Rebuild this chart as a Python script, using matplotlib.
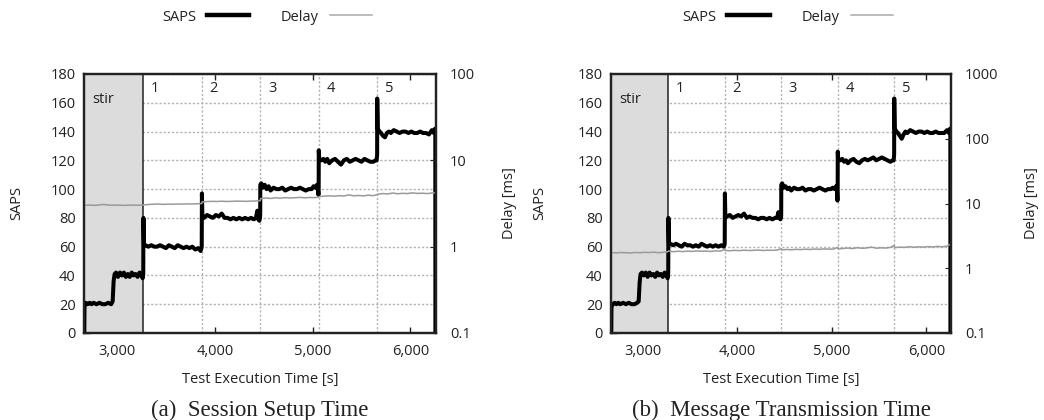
import matplotlib
matplotlib.use("Agg")
import matplotlib.pyplot as plt
from matplotlib.lines import Line2D
from matplotlib.ticker import FixedLocator, NullLocator

plt.rcParams['font.family'] = ['Open Sans', 'DejaVu Sans']

# ---------------- data ----------------
phase_edges = [3268, 3866, 4464, 5062, 5660, 6258]
phase_labels = ['1', '2', '3', '4', '5']
x_ticks = [3000, 4000, 5000, 6000]
x_ticklabels = ['3,000', '4,000', '5,000', '6,000']
saps_ticks = [0, 20, 40, 60, 80, 100, 120, 140, 160, 180]

saps_time = (
    [2665, 2667, 2680, 2700, 2720, 2740, 2760, 2790, 2820, 2850, 2880, 2910, 2940, 2955, 2965, 2975,
     2990, 3010, 3030, 3050, 3070, 3090, 3110, 3130, 3150, 3170, 3190, 3210, 3230, 3250, 3262, 3268]
    + [3270, 3275, 3290, 3320, 3350, 3380, 3410, 3440, 3470, 3500, 3530, 3560, 3590, 3620, 3650, 3680,
       3710, 3740, 3770, 3800, 3830, 3855, 3862, 3866]
    + [3868, 3873, 3890, 3920, 3950, 3980, 4010, 4040, 4070, 4100, 4130, 4160, 4190, 4220, 4250, 4280,
       4310, 4340, 4370, 4400, 4420, 4435, 4445, 4455, 4462, 4464]
    + [4465, 4475, 4490, 4510, 4530, 4550, 4570, 4600, 4630, 4660, 4690, 4720, 4750, 4780, 4810, 4840,
       4870, 4900, 4930, 4960, 4990, 5010, 5030, 5045, 5055, 5060, 5062]
    + [5063, 5068, 5090, 5110, 5130, 5150, 5170, 5200, 5230, 5260, 5290, 5320, 5350, 5380, 5410, 5440,
       5470, 5500, 5530, 5560, 5590, 5620, 5645, 5655, 5660]
    + [5661, 5666, 5685, 5700, 5720, 5740, 5760, 5780, 5800, 5830, 5860, 5890, 5920, 5950, 5980, 6010,
       6040, 6070, 6100, 6130, 6160, 6190, 6220, 6240, 6252, 6255, 6256]
)

saps_a = (
    [0, 18, 21, 20, 21, 20, 21, 20, 21, 20, 20, 21, 20, 22, 36, 41,
     42, 39, 42, 40, 42, 39, 41, 39, 42, 40, 41, 39, 42, 40, 38, 41]
    + [80, 62, 61, 60, 61, 60, 60, 61, 60, 59, 61, 60, 59, 61, 60, 59,
       60, 59, 60, 58, 59, 57, 59, 60]
    + [97, 80, 80, 82, 81, 80, 82, 81, 83, 80, 80, 79, 80, 79, 80, 79,
       80, 79, 80, 79, 80, 85, 79, 78, 80, 82]
    + [103, 104, 101, 103, 100, 102, 99, 101, 100, 100, 101, 99, 100, 101, 100, 100,
       101, 100, 99, 100, 100, 102, 101, 103, 99, 96, 100]
    + [127, 121, 120, 121, 119, 121, 118, 120, 121, 119, 117, 120, 121, 119, 120, 121,
       120, 119, 121, 120, 119, 119, 120, 120, 124]
    + [163, 142, 140, 139, 137, 136, 139, 140, 139, 141, 140, 139, 140, 140, 139, 140,
       139, 139, 140, 139, 139, 138, 141, 139, 142, 140, 0]
)

saps_b = (
    [0, 18, 20, 21, 20, 21, 20, 21, 20, 21, 20, 20, 21, 22, 35, 41,
     42, 40, 42, 39, 42, 40, 41, 39, 42, 40, 41, 39, 42, 40, 38, 42]
    + [80, 63, 62, 61, 62, 61, 60, 62, 61, 61, 60, 61, 60, 62, 61, 60,
       61, 60, 61, 60, 61, 60, 61, 62]
    + [97, 80, 81, 82, 80, 81, 82, 81, 83, 80, 81, 80, 80, 79, 80, 80,
       79, 80, 79, 80, 80, 84, 80, 79, 80, 82]
    + [103, 104, 101, 102, 100, 101, 99, 101, 100, 100, 101, 99, 100, 100, 99, 100,
       101, 100, 99, 100, 100, 101, 100, 102, 99, 92, 100]
    + [126, 121, 120, 121, 119, 120, 118, 120, 121, 119, 118, 120, 121, 120, 121, 122,
       120, 121, 122, 121, 120, 119, 120, 120, 124]
    + [163, 142, 140, 139, 137, 135, 138, 140, 139, 141, 140, 139, 140, 140, 139, 140,
       139, 139, 140, 139, 139, 139, 141, 139, 142, 140, 0]
)

delay_time = (
    [2665, 2715, 2765, 2815, 2865, 2915, 2965, 3015, 3065, 3115, 3165, 3215, 3265]
    + [3270, 3320, 3370, 3420, 3470, 3520, 3570, 3620, 3670, 3720, 3770, 3820, 3866]
    + [3870, 3920, 3970, 4020, 4070, 4120, 4170, 4220, 4270, 4320, 4370, 4420, 4464]
    + [4468, 4520, 4570, 4620, 4670, 4720, 4770, 4820, 4870, 4920, 4970, 5020, 5062]
    + [5066, 5120, 5170, 5220, 5270, 5320, 5370, 5420, 5470, 5520, 5570, 5620, 5660]
    + [5664, 5720, 5770, 5820, 5870, 5920, 5970, 6020, 6070, 6120, 6170, 6220, 6255]
)

delay_a = (
    [3.02, 3.03, 3.01, 3.04, 3.08, 3.03, 3.02, 3.03, 3.01, 3.02, 3.03, 3.02, 3.03]
    + [3.05, 3.08, 3.10, 3.12, 3.09, 3.11, 3.10, 3.12, 3.11, 3.13, 3.12, 3.14, 3.16]
    + [3.30, 3.33, 3.35, 3.34, 3.36, 3.34, 3.35, 3.37, 3.36, 3.35, 3.37, 3.38, 3.40]
    + [3.60, 3.66, 3.62, 3.68, 3.64, 3.70, 3.66, 3.69, 3.72, 3.68, 3.71, 3.70, 3.74]
    + [3.80, 3.85, 3.88, 3.84, 3.90, 3.86, 3.98, 3.88, 3.92, 3.87, 3.95, 3.90, 4.00]
    + [4.05, 4.12, 4.08, 4.18, 4.10, 4.15, 4.12, 4.20, 4.14, 4.16, 4.12, 4.18, 4.20]
)

delay_b = (
    [1.74, 1.73, 1.75, 1.74, 1.72, 1.75, 1.74, 1.76, 1.75, 1.77, 1.74, 1.76, 1.80]
    + [1.85, 1.80, 1.83, 1.81, 1.84, 1.82, 1.85, 1.83, 1.84, 1.82, 1.86, 1.84, 1.95]
    + [1.88, 1.86, 1.89, 1.87, 1.90, 1.88, 1.89, 1.91, 1.88, 1.90, 1.89, 1.91, 2.00]
    + [1.92, 1.95, 1.93, 1.96, 1.94, 1.97, 1.95, 1.98, 1.96, 1.99, 1.97, 1.98, 2.10]
    + [2.00, 2.02, 2.05, 2.01, 2.08, 2.03, 2.06, 2.12, 2.04, 2.07, 2.05, 2.10, 2.25]
    + [2.08, 2.12, 2.10, 2.15, 2.11, 2.14, 2.12, 2.16, 2.13, 2.18, 2.14, 2.20, 2.35]
)

delay_ticks_a = [0.1, 1, 10, 100]
delay_ticks_b = [0.1, 1, 10, 100, 1000]
captions = ['(a)  Session Setup Time', '(b)  Message Transmission Time']

assert len(saps_time) == len(saps_a) == len(saps_b)
assert len(delay_time) == len(delay_a) == len(delay_b)

# ---------------- figure ----------------
fig = plt.figure(figsize=(10.44, 4.2), dpi=100)
H = 420.0
W = 1044.0
axes_px = [(84, 436), (611, 951)]
top_px, bot_px = 74, 333
fs = 10.5
grid_col = '#b3b3b3'
txt_col = '#222222'
dots = (0, (1.6, 1.4))


def make_panel(px, saps, delay, dticks, caption, slabel_x, dlabel_x):
    l, r = px
    ax = fig.add_axes([l / W, 1 - bot_px / H, (r - l) / W, (bot_px - top_px) / H])
    ax.set_axisbelow(True)
    ax.set_xlim(2662, 6262)
    ax.set_ylim(0, 180)
    ax.set_yticks(saps_ticks)
    ax.set_xticks(x_ticks)
    ax.set_xticklabels(x_ticklabels)
    ax.tick_params(axis='both', direction='in', length=4, width=1, labelsize=fs,
                   colors=txt_col)
    ax.tick_params(axis='x', top=True, pad=8)
    ax.tick_params(axis='y', pad=6)
    ax.yaxis.grid(True, linestyle=dots, color=grid_col, linewidth=1.0)
    for e in phase_edges[1:]:
        ax.axvline(e, linestyle=dots, color=grid_col, linewidth=1.0, zorder=0.6)
    ax.axvspan(2662, phase_edges[0], color='#dcdcdc', zorder=1, linewidth=0)
    ax.axvline(phase_edges[0], color=txt_col, linewidth=1.1, zorder=1.2)
    for sp in ax.spines.values():
        sp.set_linewidth(1.6)
        sp.set_color(txt_col)
    ax.text(2750, 162, 'stir', fontsize=fs, va='center', ha='left', color=txt_col)
    for e, lab in zip(phase_edges[:-1], phase_labels):
        ax.text(e + 80, 170, lab, fontsize=fs, va='center', ha='left', color=txt_col)
    ax.plot(saps_time, saps, color='black', linewidth=2.9, zorder=3,
            solid_joinstyle='round')
    ax.set_xlabel('Test Execution Time [s]', fontsize=fs, labelpad=9, color=txt_col)
    ax.set_ylabel('SAPS', fontsize=fs, color=txt_col)
    ax.yaxis.set_label_coords(slabel_x, 0.5)

    ax2 = ax.twinx()
    ax2.set_yscale('log')
    ax2.set_ylim(dticks[0], dticks[-1])
    ax2.yaxis.set_major_locator(FixedLocator(dticks))
    ax2.yaxis.set_minor_locator(NullLocator())
    ax2.set_yticklabels([('%g' % v) for v in dticks])
    ax2.tick_params(axis='y', direction='in', length=4, labelsize=fs, pad=10, colors=txt_col)
    for sp in ax2.spines.values():
        sp.set_linewidth(1.6)
        sp.set_color(txt_col)
    ax2.plot(delay_time, delay, color='#9a9a9a', linewidth=1.1, zorder=2)
    ax2.set_ylabel('Delay [ms]', fontsize=fs, color=txt_col)
    ax2.yaxis.set_label_coords(dlabel_x, 0.5)

    handles = [Line2D([], [], color='black', linewidth=3.2),
               Line2D([], [], color='#aaaaaa', linewidth=1.1)]
    leg = ax2.legend(handles, ['SAPS', 'Delay'], ncol=2, markerfirst=False, frameon=False,
                     loc='center', bbox_to_anchor=(0.52, 1.22), handlelength=2.9,
                     columnspacing=2.2, handletextpad=0.75, fontsize=fs)
    for t in leg.get_texts():
        t.set_color(txt_col)

    fig.text(((l + r) / 2) / W, (H - 416) / H, caption, ha='center', va='baseline',
             fontsize=16.5, family='Liberation Serif', color=txt_col)


make_panel(axes_px[0], saps_a, delay_a, delay_ticks_a, captions[0], -0.17, 1.188)
make_panel(axes_px[1], saps_b, delay_b, delay_ticks_b, captions[1], -0.188, 1.215)

fig.savefig('out.png', dpi=100)
